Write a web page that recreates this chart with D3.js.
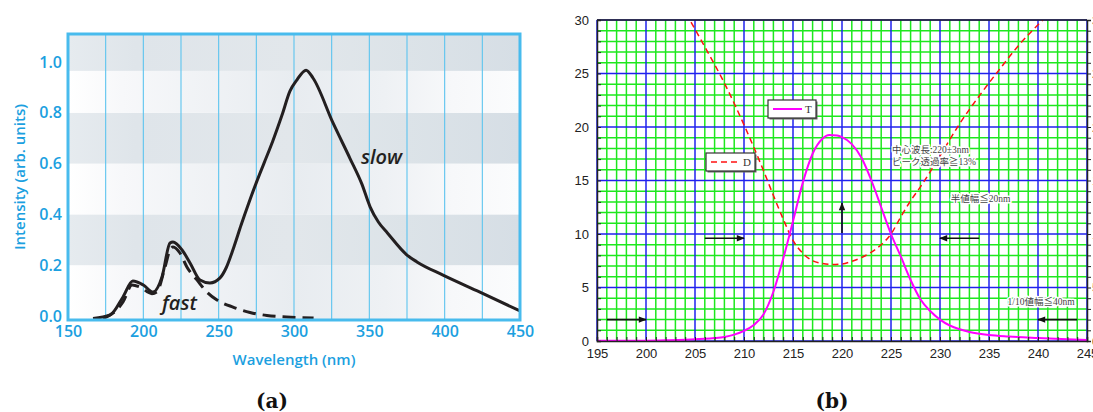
<!DOCTYPE html>
<html><head><meta charset="utf-8">
<script src="https://cdn.jsdelivr.net/npm/d3@7"></script>
<style>
html,body{margin:0;padding:0;background:#fff;}
svg{display:block;}
</style></head>
<body>
<svg id="chart" width="1093" height="412"></svg>
<script>
// ---------- Panel (a) data ----------
const aTicksX = [150, 200, 250, 300, 350, 400, 450];
const aTicksY = [0.0, 0.2, 0.4, 0.6, 0.8, 1.0];
const aGridX = [175, 200, 225, 250, 275, 300, 325, 350, 375, 400, 425];
const aBandEdges = [-0.016, 0.2, 0.4, 0.6, 0.8, 0.965, 1.11];
const slowNm  = [166.6,178,186.5,193,200,206.4,212.4,217.7,219.7,225.7,231,237.6,244.2,250.9,255,260,265,270,275,280,286,292,297.3,302,308,312.6,325.9,337.2,345,350.5,356,362,375,381.6,398.9,423.4,450];
const slowVal = [-0.01,0.004,0.075,0.138,0.122,0.094,0.154,0.287,0.291,0.26,0.209,0.142,0.13,0.15,0.19,0.27,0.36,0.445,0.525,0.6,0.69,0.79,0.885,0.93,0.968,0.937,0.76,0.62,0.52,0.43,0.37,0.327,0.24,0.213,0.161,0.094,0.02];
const fastNm  = [173.3,180,186.5,192.5,197.8,205.7,209,214.4,217.7,219.7,224.3,228.9,235.6,242.2,248.9,259.5,270.8,282,295,313];
const fastVal = [-0.01,0.012,0.055,0.122,0.114,0.088,0.095,0.193,0.26,0.272,0.248,0.193,0.142,0.094,0.063,0.035,0.014,0.002,-0.004,-0.008];

// ---------- Panel (b) data ----------
const bTicksX = [195, 200, 205, 210, 215, 220, 225, 230, 235, 240, 245];
const bTicksY = [0, 5, 10, 15, 20, 25, 30];
const tNm  = [195,198,200,202,204,205,206,207,208,209,210,211,212,213,214,215,216,217,218,218.7,219.5,220,221,222,223,224,225,226,227,228,229,230,231,232,233,235,237,240,243,245];
const tVal = [0.02,0.025,0.03,0.06,0.11,0.16,0.2,0.27,0.38,0.6,0.95,1.5,2.5,4.6,7.7,11.2,14.8,17.5,18.9,19.25,19.2,19.05,18.4,17.1,15.0,12.5,10.0,7.9,5.7,3.9,2.8,2.0,1.45,1.1,0.85,0.56,0.42,0.28,0.16,0.1];
const dNm  = [204.6,206,208,210,212,213,214,215,216,217,218,219,220,221,222,223,224,225,226,227,228,230,232,234,236,238,240.5];
const dVal = [29.8,27.5,24.1,20.2,15.9,13.6,11.4,9.4,8.2,7.5,7.25,7.15,7.2,7.45,7.8,8.3,9.0,10.0,11.6,13.1,14.4,17.3,20.3,22.9,25.3,27.6,30];
const arrowFromX = [196, 206, 220, 234, 244];
const arrowFromY = [2, 9.6, 10.1, 9.6, 2];
const arrowToX   = [200, 210, 220, 230, 240];
const arrowToY   = [2, 9.6, 12.9, 9.6, 2];
const noteText = ["中心波長:220±3nm", "ピーク透過率≧13%", "半値幅≦20nm", "1/10値幅≦40nm"];
const noteX = [225.1, 225.1, 231.1, 236.9];
const noteY = [17.6, 16.45, 13.0, 3.4];

const svg = d3.select("#chart");
const defs = svg.append("defs");

// ================= Panel (a) =================
const xA = d3.scaleLinear().domain([150, 450]).range([68, 520]);
const yA = d3.scaleLinear().domain([0, 1]).range([316, 62]);
const blue = "#1ba0e0";

function grad(id, stops) {
  const g = defs.append("linearGradient").attr("id", id).attr("x1", "0").attr("x2", "1").attr("y1", "0").attr("y2", "0");
  stops.forEach(s => g.append("stop").attr("offset", s[0]).attr("stop-color", s[1]));
}
grad("lightBand", [[0, "#ffffff"], [0.12, "#f7f8fa"], [0.5, "#e8ecf0"], [0.7, "#eef1f4"], [0.85, "#f7f8fa"], [1, "#fbfcfd"]]);
grad("darkBand", [[0, "#e6ebef"], [0.15, "#dfe5ea"], [0.5, "#e2e7eb"], [0.75, "#dce3e8"], [1, "#d6dee5"]]);

const gA = svg.append("g");
for (let i = 0; i < aBandEdges.length - 1; i++) {
  const y0 = yA(aBandEdges[i]), y1 = yA(aBandEdges[i + 1]);
  gA.append("rect").attr("x", xA(150)).attr("width", xA(450) - xA(150))
    .attr("y", y1).attr("height", y0 - y1)
    .attr("fill", i % 2 === 0 ? "url(#lightBand)" : "url(#darkBand)");
}
gA.selectAll("line.vg").data(aGridX).join("line").attr("class", "vg")
  .attr("x1", d => xA(d)).attr("x2", d => xA(d)).attr("y1", 34).attr("y2", 320)
  .attr("stroke", "#5cc4ef").attr("stroke-width", 1.1);

const lineA = d3.line().x(d => xA(d[0])).y(d => yA(d[1])).curve(d3.curveMonotoneX);
const slow = slowNm.map((d, i) => [d, slowVal[i]]);
const fast = fastNm.map((d, i) => [d, fastVal[i]]);
gA.append("path").attr("d", lineA(fast)).attr("fill", "none").attr("stroke", "#231f20")
  .attr("stroke-width", 3).attr("stroke-dasharray", "13,7");
gA.append("path").attr("d", lineA(slow)).attr("fill", "none").attr("stroke", "#231f20")
  .attr("stroke-width", 3).attr("stroke-linejoin", "round");

gA.append("rect").attr("x", 68).attr("y", 34).attr("width", 452).attr("height", 286)
  .attr("fill", "none").attr("stroke", "#48bbed").attr("stroke-width", 3);

const axA = d3.axisBottom(xA).tickValues(aTicksX).tickSize(0).tickPadding(0).tickFormat(d3.format("d"));
const gxA = svg.append("g").attr("transform", "translate(0,326)").call(axA);
gxA.select(".domain").remove();
gxA.selectAll("text").attr("fill", blue).attr("font-family", "Open Sans").attr("font-weight", 600)
  .attr("font-size", 16).attr("dy", "0.71em");
const ayA = d3.axisLeft(yA).tickValues(aTicksY).tickSize(0).tickPadding(0).tickFormat(d3.format(".1f"));
const gyA = svg.append("g").attr("transform", "translate(62,0)").call(ayA);
gyA.select(".domain").remove();
gyA.selectAll("text").attr("fill", blue).attr("font-family", "Open Sans").attr("font-weight", 600)
  .attr("font-size", 16);

svg.append("text").attr("x", 294).attr("y", 365).attr("text-anchor", "middle")
  .attr("font-family", "Open Sans").attr("font-weight", 600).attr("font-size", 15).attr("fill", blue)
  .text("Wavelength (nm)");
svg.append("text").attr("transform", "translate(25,177) rotate(-90)").attr("text-anchor", "middle")
  .attr("font-family", "Open Sans").attr("font-weight", 600).attr("font-size", 15).attr("fill", blue)
  .text("Intensity (arb. units)");
svg.append("text").attr("x", 361).attr("y", 164).attr("font-family", "Open Sans").attr("font-style", "italic")
  .attr("font-weight", 600).attr("font-size", 20).attr("fill", "#231f20").text("slow");
svg.append("text").attr("x", 162).attr("y", 310).attr("font-family", "Open Sans").attr("font-style", "italic")
  .attr("font-weight", 600).attr("font-size", 20).attr("fill", "#231f20").text("fast");
svg.append("text").attr("x", 272).attr("y", 408).attr("text-anchor", "middle")
  .attr("font-family", "DejaVu Serif").attr("font-weight", "bold").attr("font-size", 20).attr("fill", "#111").text("(a)");

// ================= Panel (b) =================
const xB = d3.scaleLinear().domain([195, 245]).range([597, 1087]);
const yB = d3.scaleLinear().domain([0, 30]).range([341, 20]);
const gB = svg.append("g");

const minorX = d3.range(195, 246, 1);
const minorY = d3.range(0, 31, 1);
gB.selectAll("line.gx").data(minorX.filter(d => d % 5 !== 0)).join("line").attr("class", "gx")
  .attr("x1", d => xB(d)).attr("x2", d => xB(d)).attr("y1", yB(0)).attr("y2", yB(30))
  .attr("stroke", "#1de81d").attr("stroke-width", 1.5);
gB.selectAll("line.gy").data(minorY.filter(d => d % 5 !== 0)).join("line").attr("class", "gy")
  .attr("x1", xB(195)).attr("x2", xB(245)).attr("y1", d => yB(d)).attr("y2", d => yB(d))
  .attr("stroke", "#1de81d").attr("stroke-width", 1.5);
gB.selectAll("line.bx").data(bTicksX).join("line").attr("class", "bx")
  .attr("x1", d => xB(d)).attr("x2", d => xB(d)).attr("y1", yB(0)).attr("y2", yB(30))
  .attr("stroke", "#2020ee").attr("stroke-width", 1.5);
gB.selectAll("line.by").data(bTicksY).join("line").attr("class", "by")
  .attr("x1", xB(195)).attr("x2", xB(245)).attr("y1", d => yB(d)).attr("y2", d => yB(d))
  .attr("stroke", "#2020ee").attr("stroke-width", 1.5);

defs.append("clipPath").attr("id", "clipB").append("rect")
  .attr("x", xB(195)).attr("y", yB(30)).attr("width", xB(245) - xB(195)).attr("height", yB(0) - yB(30));

const lineB = d3.line().x(d => xB(d[0])).y(d => yB(d[1])).curve(d3.curveMonotoneX);
const tData = tNm.map((d, i) => [d, tVal[i]]);
const dData = dNm.map((d, i) => [d, dVal[i]]);
gB.append("path").attr("clip-path", "url(#clipB)").attr("d", lineB(dData)).attr("fill", "none")
  .attr("stroke", "#ff1010").attr("stroke-width", 1.5).attr("stroke-dasharray", "6,4");
gB.append("path").attr("clip-path", "url(#clipB)").attr("d", lineB(tData)).attr("fill", "none")
  .attr("stroke", "#ff00ff").attr("stroke-width", 2);

const axB = d3.axisBottom(xB).tickValues(minorX).tickSize(-4).tickPadding(8)
  .tickFormat(d => d % 5 === 0 ? d : "");
const gxB = svg.append("g").attr("transform", `translate(0,${yB(0)})`).call(axB);
const ayB = d3.axisLeft(yB).tickValues(minorY).tickSize(-4).tickPadding(8)
  .tickFormat(d => d % 5 === 0 ? d : "");
const gyB = svg.append("g").attr("transform", `translate(${xB(195)},0)`).call(ayB);
const ayB2 = d3.axisRight(yB).tickValues(minorY).tickSize(4).tickPadding(1)
  .tickFormat(d => d % 5 === 0 ? d : "");
const gyB2 = svg.append("g").attr("transform", `translate(${xB(245)},0)`).call(ayB2);
[gxB, gyB, gyB2].forEach(g => {
  g.select(".domain").attr("stroke", "#222").attr("stroke-width", 1.5);
  g.selectAll(".tick line").attr("stroke", "#222").attr("stroke-width", 1);
  g.selectAll("text").attr("font-family", "Liberation Sans").attr("font-size", 13).attr("fill", "#222");
});
gB.append("line").attr("x1", xB(195)).attr("x2", xB(245)).attr("y1", yB(30)).attr("y2", yB(30))
  .attr("stroke", "#222").attr("stroke-width", 1.5);

defs.append("clipPath").attr("id", "clipTitle").append("rect").attr("x", 600).attr("y", 360).attr("width", 480).attr("height", 13);
svg.append("text").attr("clip-path", "url(#clipTitle)").attr("x", 840).attr("y", 384).attr("text-anchor", "middle")
  .attr("font-family", "Liberation Sans").attr("font-size", 13).attr("fill", "#999").text("Wavelength (nm)");

defs.append("marker").attr("id", "ah").attr("viewBox", "0 0 10 10").attr("refX", 9).attr("refY", 5)
  .attr("markerWidth", 10).attr("markerHeight", 8).attr("orient", "auto").attr("markerUnits", "userSpaceOnUse")
  .append("path").attr("d", "M0,1 L10,5 L0,9 Z").attr("fill", "#111");
gB.selectAll("line.arrow").data(arrowFromX).join("line").attr("class", "arrow")
  .attr("x1", (d, i) => xB(arrowFromX[i])).attr("y1", (d, i) => yB(arrowFromY[i]))
  .attr("x2", (d, i) => xB(arrowToX[i])).attr("y2", (d, i) => yB(arrowToY[i]))
  .attr("stroke", "#111").attr("stroke-width", 1.6).attr("marker-end", "url(#ah)");

gB.selectAll("text.note").data(noteText).join("text").attr("class", "note")
  .attr("x", (d, i) => xB(noteX[i])).attr("y", (d, i) => yB(noteY[i]))
  .attr("font-family", "Liberation Serif, Noto Sans CJK JP").attr("font-size", 9.5).attr("fill", "#444")
  .attr("stroke", "#fff").attr("stroke-width", 3).attr("paint-order", "stroke").attr("stroke-linejoin", "round")
  .text(d => d);

function legend(x, y, w, h, color, dash, label) {
  const g = gB.append("g");
  g.append("rect").attr("x", x + 1.5).attr("y", y + 1.5).attr("width", w).attr("height", h).attr("fill", "#666");
  g.append("rect").attr("x", x).attr("y", y).attr("width", w).attr("height", h).attr("fill", "#fff")
    .attr("stroke", "#333").attr("stroke-width", 1.2);
  g.append("line").attr("x1", x + 5).attr("x2", x + 34).attr("y1", y + h / 2).attr("y2", y + h / 2)
    .attr("stroke", color).attr("stroke-width", dash ? 1.5 : 2).attr("stroke-dasharray", dash || null);
  g.append("text").attr("x", x + 37).attr("y", y + h / 2 + 4).attr("font-family", "Liberation Serif")
    .attr("font-size", 11).attr("fill", "#333").text(label);
}
legend(768, 100, 48, 18, "#ff00ff", null, "T");
legend(706, 153, 49, 18, "#ff1010", "6,4", "D");

svg.append("text").attr("x", 832).attr("y", 408).attr("text-anchor", "middle")
  .attr("font-family", "DejaVu Serif").attr("font-weight", "bold").attr("font-size", 20).attr("fill", "#111").text("(b)");
</script>
</body></html>
